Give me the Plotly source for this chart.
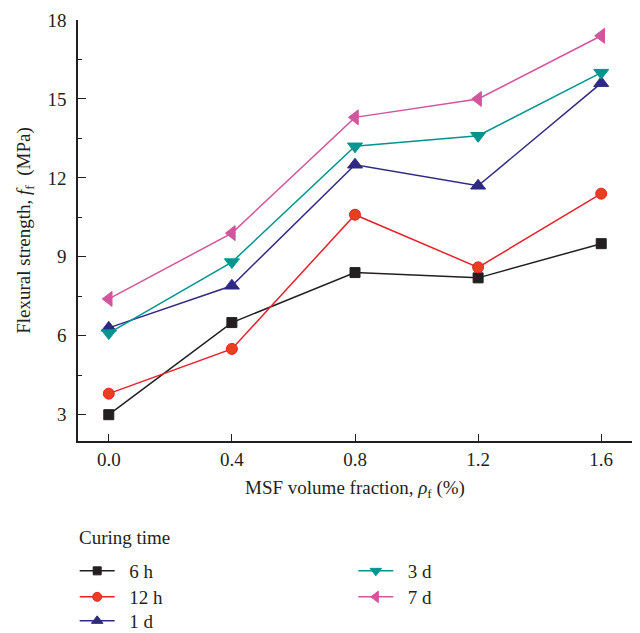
import plotly.graph_objects as go

x_vals = [0.0, 0.4, 0.8, 1.2, 1.6]
series_names = ["6 h", "12 h", "1 d", "3 d", "7 d"]
s_6h = [3.0, 6.5, 8.4, 8.2, 9.5]
s_12h = [3.8, 5.5, 10.6, 8.6, 11.4]
s_1d = [6.3, 7.9, 12.5, 11.7, 15.6]
s_3d = [6.1, 8.8, 13.2, 13.6, 16.0]
s_7d = [7.4, 9.9, 14.3, 15.0, 17.4]
x_ticks = [0.0, 0.4, 0.8, 1.2, 1.6]
x_tick_labels = ["0.0", "0.4", "0.8", "1.2", "1.6"]
y_ticks = [3, 6, 9, 12, 15, 18]

series = [s_6h, s_12h, s_1d, s_3d, s_7d]
line_colors = ["#231f20", "#e8202a", "#2e2a83", "#00958f", "#d3559d"]
fill_colors = ["#231f20", "#e8401c", "#2e2a83", "#00958f", "#d3559d"]
symbols = ["square", "circle", "triangle-up", "triangle-down", "triangle-left"]
sizes = [10, 11, 13, 13, 13]
legend_sizes = [8, 9, 10, 10, 10]
legend_ids = ["legend", "legend2", "legend3", "legend4", "legend5"]
# legend row placement (column x in paper fraction, row centre in pixels)
legend_cols = [-0.006, -0.006, -0.006, 0.497, 0.497]
legend_rows_px = [571, 597, 621, 571, 597]

FONT = "Liberation Serif"
FS = 19
PLOT_BOTTOM = 441
PLOT_H = 421
GAP = "\u00a0\u00a0"

fig = go.Figure()
for name, ys, lc, fc, sym, sz, lsz, lg in zip(series_names, series, line_colors, fill_colors,
                                               symbols, sizes, legend_sizes, legend_ids):
    fig.add_trace(go.Scatter(
        x=x_vals, y=ys, name=name, mode="lines+markers",
        line=dict(color=lc, width=1.5),
        marker=dict(symbol=sym, size=sz, color=fc, line=dict(color=lc, width=1)),
        showlegend=False, legendgroup=name,
    ))
    # legend-only entry with smaller marker
    fig.add_trace(go.Scatter(
        x=[None], y=[None], name=GAP + name, mode="lines+markers",
        line=dict(color=lc, width=1.5),
        marker=dict(symbol=sym, size=lsz, color=fc, line=dict(color=lc, width=1)),
        legend=lg, legendgroup=name, showlegend=True,
    ))

fig.add_annotation(
    text="Curing time", xref="paper", yref="paper",
    x=-0.002, xanchor="left", y=(PLOT_BOTTOM - 537) / PLOT_H, yanchor="middle",
    showarrow=False, font=dict(family=FONT, size=FS, color="#231f20"),
)

legend_layout = {}
for lg, lx, ly in zip(legend_ids, legend_cols, legend_rows_px):
    legend_layout[lg] = dict(
        x=lx, xanchor="left", y=(PLOT_BOTTOM - ly) / PLOT_H, yanchor="middle",
        font=dict(size=FS), bgcolor="rgba(0,0,0,0)",
        tracegroupgap=0, itemwidth=35,
    )

fig.update_layout(
    width=640, height=633,
    margin=dict(l=78, r=8, t=20, b=192, autoexpand=False),
    plot_bgcolor="white", paper_bgcolor="white",
    font=dict(family=FONT, size=FS, color="#231f20"),
    showlegend=True,
    **legend_layout,
    xaxis=dict(
        range=[-0.1, 1.7], tickvals=x_ticks, ticktext=x_tick_labels,
        ticks="inside", ticklen=7, tickwidth=1.2, tickcolor="#231f20",
        showline=True, linecolor="#231f20", linewidth=1.5,
        showgrid=False, zeroline=False, automargin=False,
        tickfont=dict(size=FS), ticklabelstandoff=0,
        title=dict(text="MSF volume fraction, <i>ρ</i><sub>f</sub> (%)", font=dict(size=FS), standoff=12),
    ),
    yaxis=dict(
        range=[2, 18], tickvals=y_ticks,
        ticks="inside", ticklen=8, tickwidth=1.2, tickcolor="#231f20",
        minor=dict(dtick=1.5, tick0=1.5, ticks="inside", ticklen=4, tickcolor="#231f20", showgrid=False),
        showline=True, linecolor="#231f20", linewidth=1.5,
        showgrid=False, zeroline=False, automargin=False,
        tickfont=dict(size=FS), ticklabelstandoff=6,
        title=dict(text="Flexural strength, <i>f</i><sub>f</sub>  (MPa)", font=dict(size=FS), standoff=12),
    ),
)

fig.write_html("out.html")
